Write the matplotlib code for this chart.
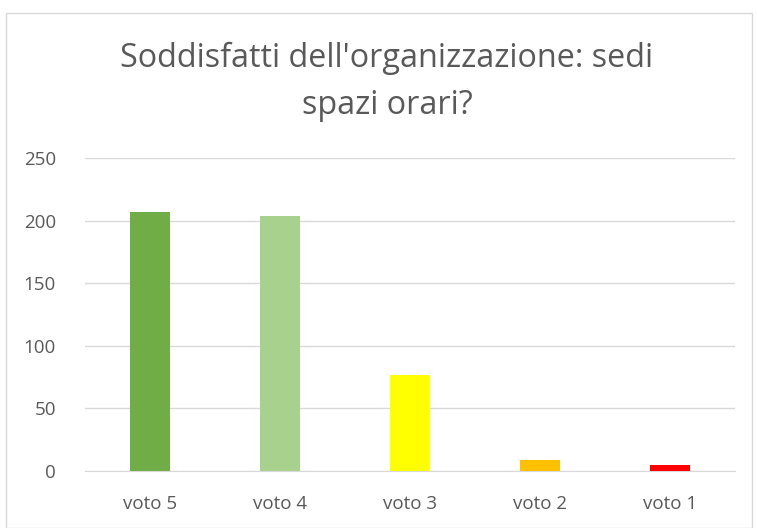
import matplotlib
matplotlib.use("Agg")
import matplotlib.pyplot as plt
from matplotlib.patches import Rectangle

categories = ["voto 5", "voto 4", "voto 3", "voto 2", "voto 1"]
values = [207, 204, 77, 9, 5]
colors = ["#70AD47", "#A9D18E", "#FFFF00", "#FFC000", "#FF0000"]
yticks = [0, 50, 100, 150, 200, 250]
title = "Soddisfatti dell'organizzazione: sedi\nspazi orari?"

plt.rcParams['font.family'] = ['Open Sans', 'DejaVu Sans']
fig = plt.figure(figsize=(7.57, 5.28), dpi=100)
fig.patches.append(Rectangle((6/757, 0.0), 746/757, 1 - 13/528, transform=fig.transFigure,
                             fill=False, edgecolor="#D9D9D9", linewidth=1))
ax = fig.add_axes([85/757, 1 - 471/528, 650/757, 313/528])
x = range(len(categories))
ax.bar(x, values, width=0.315, color=colors, zorder=3)
ax.set_xlim(-0.5, len(categories) - 0.5)
ax.set_ylim(0, 250)
ax.set_yticks(yticks)
ax.set_xticks(list(x))
ax.set_xticklabels(categories)
ax.grid(axis="y", color="#D9D9D9", linewidth=1, zorder=0)
for s in ["top", "right", "left"]:
    ax.spines[s].set_visible(False)
ax.spines["bottom"].set_color("#D9D9D9")
ax.tick_params(axis="both", length=0, labelsize=13.5, colors="#595959")
ax.tick_params(axis="x", pad=17)
ax.tick_params(axis="y", pad=21)
fig.text(387/757, 1 - 82/528, title, ha="center", va="center", fontsize=23.3, color="#595959",
         linespacing=1.55, multialignment="center")
fig.savefig("out.png", dpi=100)
